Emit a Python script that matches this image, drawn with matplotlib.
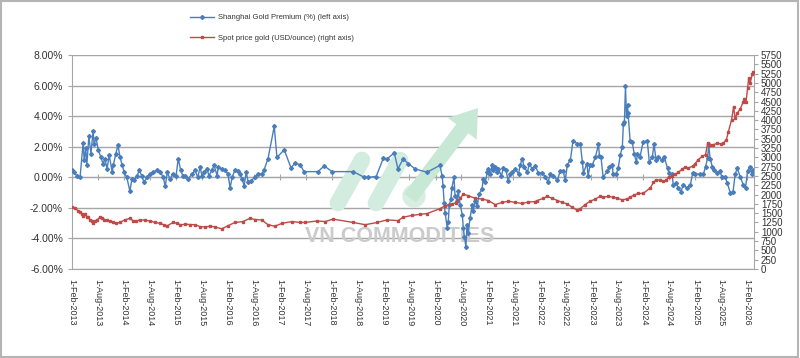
import numpy as np
import pandas as pd
import matplotlib
matplotlib.use("Agg")
import matplotlib.pyplot as plt
from matplotlib.lines import Line2D
from matplotlib.patches import Rectangle, FancyArrow, Circle

# --------------------------------------------------
# data (time as decimal year)
# --------------------------------------------------
premium_t = [
    2013.085, 2013.12, 2013.18, 2013.24, 2013.30, 2013.32, 2013.35, 2013.37, 2013.41, 2013.45,
    2013.49, 2013.51, 2013.55, 2013.59, 2013.64, 2013.68, 2013.72, 2013.76, 2013.80, 2013.86,
    2013.88, 2013.93, 2013.97, 2014.01, 2014.05, 2014.09, 2014.14, 2014.20, 2014.24, 2014.28,
    2014.34, 2014.38, 2014.43, 2014.47, 2014.53, 2014.59, 2014.65, 2014.72, 2014.78, 2014.84,
    2014.88, 2014.92, 2014.97, 2015.03, 2015.09, 2015.13, 2015.18, 2015.22, 2015.26, 2015.32,
    2015.40, 2015.45, 2015.51, 2015.55, 2015.59, 2015.63, 2015.69, 2015.72, 2015.78, 2015.82,
    2015.88, 2015.90, 2015.97, 2016.03, 2016.09, 2016.13, 2016.17, 2016.22, 2016.28, 2016.32,
    2016.36, 2016.40, 2016.44, 2016.48, 2016.53, 2016.61, 2016.67, 2016.74, 2016.78, 2016.86,
    2016.98, 2017.03, 2017.17, 2017.30, 2017.38, 2017.48, 2017.55, 2017.82, 2017.94, 2018.09,
    2018.50, 2018.71, 2018.79, 2018.94, 2019.08, 2019.15, 2019.29, 2019.36, 2019.46, 2019.56,
    2019.69, 2019.92, 2020.17, 2020.21, 2020.23, 2020.25, 2020.27, 2020.31, 2020.33, 2020.35,
    2020.38, 2020.40, 2020.44, 2020.46, 2020.50, 2020.52, 2020.56, 2020.60, 2020.62, 2020.64,
    2020.67, 2020.69, 2020.71, 2020.75, 2020.79, 2020.81, 2020.85, 2020.89, 2020.92, 2020.98,
    2021.00, 2021.04, 2021.08, 2021.10, 2021.14, 2021.17, 2021.19, 2021.23, 2021.27, 2021.29,
    2021.35, 2021.39, 2021.44, 2021.48, 2021.52, 2021.56, 2021.62, 2021.68, 2021.71, 2021.75,
    2021.79, 2021.85, 2021.89, 2021.94, 2022.00, 2022.06, 2022.14, 2022.20, 2022.25, 2022.29,
    2022.35, 2022.43, 2022.48, 2022.54, 2022.58, 2022.62, 2022.68, 2022.73, 2022.81, 2022.87,
    2022.91, 2022.93, 2023.00, 2023.02, 2023.06, 2023.10, 2023.16, 2023.22, 2023.24, 2023.27,
    2023.31, 2023.39, 2023.43, 2023.49, 2023.50, 2023.56, 2023.60, 2023.64, 2023.68, 2023.70,
    2023.72, 2023.74, 2023.76, 2023.78, 2023.79, 2023.83, 2023.87, 2023.91, 2023.95, 2023.97,
    2024.02, 2024.08, 2024.16, 2024.20, 2024.26, 2024.29, 2024.33, 2024.37, 2024.45, 2024.49,
    2024.55, 2024.58, 2024.64, 2024.66, 2024.72, 2024.76, 2024.81, 2024.85, 2024.93, 2024.99,
    2025.03, 2025.08, 2025.18, 2025.24, 2025.28, 2025.32, 2025.34, 2025.37, 2025.41, 2025.45,
    2025.51, 2025.55, 2025.60, 2025.66, 2025.70, 2025.76, 2025.81, 2025.85, 2025.89, 2025.95,
    2026.01, 2026.05, 2026.09, 2026.13, 2026.18, 2026.20,
]
premium_v = [
    0.45, 0.33, 0.10, 0.00, 2.27, 1.10, 1.90, 0.80, 2.67, 1.55,
    3.00, 2.20, 2.55, 1.80, 1.33, 0.90, 1.20, 0.55, 1.45, 0.33,
    0.80, 1.55, 2.10, 1.33, 0.80, 0.33, 0.00, -0.90, -0.10, -0.20,
    0.10, 0.45, 0.10, -0.33, 0.00, 0.22, 0.33, 0.45, 0.33, 0.05,
    -0.60, 0.33, -0.10, 0.22, 0.10, 1.20, 0.45, 0.10, 0.10, -0.10,
    0.22, 0.45, 0.00, 0.67, 0.10, 0.33, 0.55, 0.10, 0.45, 0.80,
    0.10, 0.67, 0.55, 0.45, 0.22, -0.70, 0.00, 0.45, 0.38, 0.22,
    -0.10, -0.55, 0.33, -0.33, -0.22, 0.00, 0.22, 0.22, 0.45, 1.22,
    3.33, 1.30, 1.80, 0.62, 0.93, 0.82, 0.37, 0.37, 0.75, 0.37,
    0.37, 0.00, 0.00, 0.05, 1.25, 1.20, 1.60, 0.55, 1.20, 0.90,
    0.55, 0.33, 0.78, 0.10, -0.55, -1.67, -2.33, -3.33, -2.90, -1.80,
    -1.45, -0.67, 0.00, -1.20, -1.55, -0.90, -1.80, -2.45, -3.33, -3.90,
    -4.55, -3.10, -3.67, -2.67, -1.80, -2.20, -1.55, -1.90, -1.10, -0.78,
    -0.10, -0.33, 0.33, 0.55, 0.22, 0.78, 0.45, 0.67, 0.33, 0.55,
    0.10, 0.62, 0.45, -0.22, 0.22, 0.33, 0.55, 0.22, 0.78, 1.22,
    0.67, 0.33, 0.90, 0.55, 0.77, 0.30, 0.30, 0.00, -0.30, 0.20,
    0.10, -0.20, 0.40, 0.40, -0.20, 0.80, 1.15, 2.40, 2.20, 2.20,
    1.00, 0.30, 0.90, 0.10, 0.80, 0.80, 1.30, 2.15, 1.40, 1.30,
    0.00, 0.40, 0.70, 0.80, 0.20, 0.20, 0.60, 1.45, 2.00, 3.50,
    3.60, 5.97, 4.00, 4.70, 4.20, 2.35, 2.30, 1.50, 1.00, 1.50,
    1.33, 2.30, 2.40, 1.00, 1.35, 2.20, 1.10, 1.35, 1.10, 1.30,
    0.60, 0.25, 0.20, -0.50, -0.40, -0.70, -0.95, -0.50, -0.70, -0.50,
    0.25, 0.20, 0.20, 0.20, 0.70, 1.25, 2.10, 1.20, 0.70, 0.50,
    0.25, 0.40, 0.00, 0.00, -0.40, -1.05, -0.95, 0.20, 0.60, 0.00,
    -0.50, -0.70, 0.40, 0.70, 0.20, 0.50,
]

gold_t = [
    2013.085, 2013.14, 2013.20, 2013.24, 2013.28, 2013.30, 2013.33, 2013.37, 2013.40, 2013.43,
    2013.47, 2013.49, 2013.53, 2013.57, 2013.62, 2013.66, 2013.71, 2013.76, 2013.82, 2013.88,
    2013.94, 2014.01, 2014.10, 2014.20, 2014.26, 2014.32, 2014.40, 2014.49, 2014.59, 2014.68,
    2014.78, 2014.85, 2014.92, 2015.03, 2015.10, 2015.17, 2015.26, 2015.36, 2015.45, 2015.55,
    2015.65, 2015.75, 2015.84, 2015.97, 2016.09, 2016.22, 2016.38, 2016.51, 2016.61, 2016.74,
    2016.86, 2016.99, 2017.13, 2017.32, 2017.48, 2017.57, 2017.80, 2017.96, 2018.11, 2018.50,
    2018.73, 2018.96, 2019.15, 2019.36, 2019.46, 2019.63, 2019.79, 2019.92, 2020.17, 2020.27,
    2020.40, 2020.48, 2020.56, 2020.62, 2020.71, 2020.85, 2020.98, 2021.10, 2021.23, 2021.37,
    2021.48, 2021.62, 2021.75, 2021.87, 2022.00, 2022.04, 2022.16, 2022.23, 2022.33, 2022.43,
    2022.52, 2022.62, 2022.71, 2022.81, 2022.87, 2022.96, 2023.06, 2023.16, 2023.25, 2023.31,
    2023.41, 2023.50, 2023.58, 2023.68, 2023.77, 2023.83, 2023.91, 2023.99, 2024.08, 2024.22,
    2024.28, 2024.33, 2024.41, 2024.47, 2024.53, 2024.57, 2024.64, 2024.70, 2024.76, 2024.83,
    2024.89, 2024.95, 2025.03, 2025.08, 2025.14, 2025.22, 2025.28, 2025.32, 2025.37, 2025.43,
    2025.51, 2025.57, 2025.62, 2025.68, 2025.72, 2025.78, 2025.82, 2025.85, 2025.89, 2025.95,
    2026.01, 2026.03, 2026.06, 2026.09, 2026.11, 2026.14, 2026.18, 2026.20,
]
gold_v = [
    1675, 1630, 1570, 1540, 1470, 1420, 1480, 1400, 1410, 1317,
    1300, 1228, 1290, 1317, 1390, 1360, 1330, 1317, 1280, 1250,
    1230, 1250, 1320, 1360, 1300, 1290, 1320, 1310, 1290, 1250,
    1228, 1190, 1160, 1250, 1230, 1190, 1200, 1195, 1190, 1140,
    1130, 1150, 1130, 1080, 1160, 1250, 1275, 1360, 1330, 1317,
    1190, 1150, 1228, 1275, 1250, 1250, 1290, 1275, 1340, 1250,
    1190, 1250, 1320, 1300, 1390, 1440, 1470, 1490, 1620, 1700,
    1750, 1780, 1900, 2010, 1970, 1900, 1880, 1840, 1730, 1790,
    1820, 1790, 1760, 1800, 1810, 1840, 1900, 1950, 1900, 1840,
    1790, 1750, 1660, 1580, 1620, 1730, 1820, 1880, 1950, 1930,
    1950, 1930, 1900, 1860, 1880, 1930, 1990, 2030, 2030, 2180,
    2330, 2390, 2390, 2360, 2390, 2475, 2500, 2540, 2600, 2680,
    2740, 2715, 2760, 2830, 2940, 3030, 3070, 3380, 3340, 3340,
    3380, 3360, 3380, 3470, 3690, 4000, 4360, 4050, 4180, 4310,
    4500, 4580, 4500, 4850, 5120, 4990, 5240, 5300,
]

premium_label = "Shanghai Gold Premium (%) (left axis)"
gold_label = "Spot price gold (USD/ounce) (right axis)"
watermark = "VN COMMODITIES"


def to_date(y):
    yr = int(y)
    return pd.Timestamp(year=yr, month=1, day=1) + pd.Timedelta(days=(y - yr) * 365.25)


prem_dates = [to_date(t) for t in premium_t]
gold_dates = [to_date(t) for t in gold_t]
x_ticks = pd.date_range("2013-02-01", "2026-02-01", freq="6MS")
x_labels = [f"{d.day}-{d.strftime('%b-%Y')}" for d in x_ticks]

# --------------------------------------------------
# plot
# --------------------------------------------------
plt.rcParams["font.family"] = ["Liberation Sans", "DejaVu Sans"]
blue = "#4a7ebb"
red = "#be4b48"
grey = "#a6a6a6"
txt = "#333333"

fig = plt.figure(figsize=(8.0, 3.58), dpi=100)
ax = fig.add_axes([72 / 800, 1 - 269 / 358, (754 - 72) / 800, (269 - 55) / 358])
ax2 = ax.twinx()

# watermark (pixel -> inch coords)
def px(x, y):
    return x / 100, (358 - y) / 100

for (x0, y0), (x1, y1) in [((338, 203), (362, 160)), ((376, 203), (400, 160))]:
    p0, p1 = px(x0, y0), px(x1, y1)
    ax.add_line(Line2D([p0[0], p1[0]], [p0[1], p1[1]], transform=fig.dpi_scale_trans,
                       lw=12, color="#d2ede0", solid_capstyle="round", zorder=0.6))
c = px(414, 196)
ax.add_patch(Circle(c, 0.11, transform=fig.dpi_scale_trans, color="#d8eee3", zorder=0.6))
a0, a1 = px(410, 198), px(478, 108)
ax.add_patch(FancyArrow(a0[0], a0[1], a1[0] - a0[0], a1[1] - a0[1], width=0.15,
                        head_width=0.36, head_length=0.26, length_includes_head=True,
                        transform=fig.dpi_scale_trans, color="#c6e8d5", lw=0, zorder=0.6))
tx, ty = px(400, 236)
ax.text(tx, ty, watermark, transform=fig.dpi_scale_trans, ha="center", va="center",
        fontsize=15.5, fontweight="bold", color="#cbcbcb", zorder=0.7)

ax.plot(prem_dates, premium_v, color=blue, lw=1.0, marker="D", ms=2.0, zorder=3)
ax2.plot(gold_dates, gold_v, color=red, lw=1.0, marker="s", ms=1.9, zorder=3)

ax.set_ylim(-6, 8)
ax.set_yticks(np.arange(-6, 8.1, 2))
ax.set_yticklabels([f"{v:.2f}%" for v in np.arange(-6, 8.1, 2)])
ax.yaxis.grid(True, color=grey, lw=1.0)
ax.set_axisbelow(True)

ax.set_xlim(pd.Timestamp("2013-02-01"), pd.Timestamp("2026-03-20"))
ax.set_xticks(x_ticks)
ax.set_xticklabels(x_labels, rotation=-90, fontsize=6.5, color=txt)
ax.tick_params(axis="x", length=0, pad=7)
ax.tick_params(axis="y", labelsize=7.5, colors=txt, length=3, color=grey)

for s in ["top", "right"]:
    ax.spines[s].set_visible(False)
ax.spines["left"].set_color(grey)
ax.spines["bottom"].set_color(grey)

# x axis crossing at 0 %
sec = ax.secondary_xaxis(6 / 14)
sec.set_xticks(x_ticks)
sec.set_xticklabels([])
sec.tick_params(direction="inout", length=4, color=grey)
sec.spines["top"].set_color(grey)
sec.spines["bottom"].set_color(grey)

ax2.set_ylim(0, 5750)
ax2.set_yticks(np.arange(0, 5751, 250))
ax2.tick_params(axis="y", labelsize=7, colors=txt, length=3, color=grey, pad=2)
for s in ["top", "left", "bottom"]:
    ax2.spines[s].set_visible(False)
ax2.spines["right"].set_color(grey)

handles = [
    Line2D([], [], color=blue, lw=1.0, marker="D", ms=2.0),
    Line2D([], [], color=red, lw=1.0, marker="s", ms=1.9),
]
fig.legend(handles, [premium_label, gold_label], loc="upper left",
           bbox_to_anchor=(183 / 800, 1 - 7 / 358), frameon=False, fontsize=5.5,
           labelspacing=1.7, handlelength=3.2, handletextpad=0.5, labelcolor=txt)

fig.add_artist(Rectangle((0.001, 0.002), 0.997, 0.995, transform=fig.transFigure,
                         fill=False, edgecolor="#b4b4b4", lw=1.5))

fig.savefig("out.png", dpi=100)
